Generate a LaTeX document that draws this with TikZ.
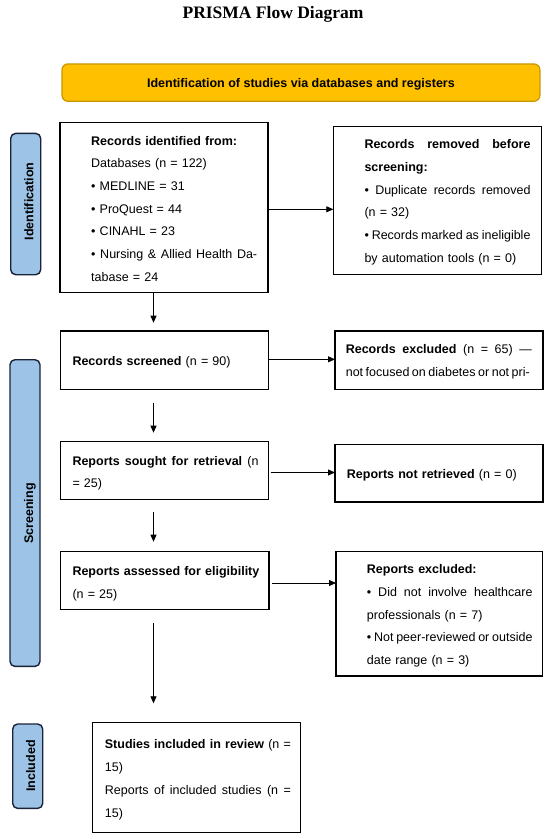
\documentclass[tikz,border=0pt]{standalone}
\usepackage{fontspec}
\setmainfont{Liberation Sans}
\newfontfamily\titlefont{Liberation Serif}
\usetikzlibrary{arrows.meta}
\definecolor{banfill}{RGB}{255,192,0}
\definecolor{banline}{RGB}{200,150,0}
\definecolor{barfill}{RGB}{157,195,230}
\definecolor{barline}{RGB}{25,35,55}
\newcommand{\jline}[2]{\makebox[#1][s]{\spaceskip=.278em plus 3em minus .1em\relax #2}}
\begin{document}
\begin{tikzpicture}[x=1pt,y=-1pt,
 box/.style={draw=black, line width=1.3pt, inner sep=0pt, outer sep=0pt, anchor=north west},
 txt/.style={inner sep=0pt, anchor=base west, align=left, text width=230pt, font=\fontsize{12.5}{22.67}\selectfont},
 bar/.style={draw=barline, fill=barfill, line width=1.4pt, rounded corners=5pt, inner sep=0pt, anchor=north west, minimum width=30pt},
 barlabel/.style={rotate=90, anchor=base, inner sep=0pt, font=\fontsize{12.5}{15}\selectfont\bfseries},
 arr/.style={line width=0.8pt, -{Triangle[length=7pt,width=6pt]}}
]
\useasboundingbox (0,0) rectangle (550,839);

% title and banner
\node[font=\titlefont\bfseries\fontsize{17.5}{20}\selectfont, inner sep=0pt, anchor=base] (title) at (273,18.3) {PRISMA Flow Diagram};
\node[draw=banline, fill=banfill, line width=1.2pt, rounded corners=6pt, minimum width=477.9pt, minimum height=37.4pt, inner sep=0pt, anchor=north west, text height=9pt, text depth=0pt, font=\fontsize{12.5}{15}\selectfont\bfseries] (ban) at (61.4,63.3) {Identification of studies via databases and registers};

% phase bars
\node[bar, minimum height=141.3pt] (idb) at (10,132.7) {};
\node[bar, minimum height=306.7pt] (scb) at (9.3,359) {};
\node[bar, minimum height=84.4pt] (inb) at (12,723.3) {};
\node[barlabel] (idl) at (33.3,201.5) {Identification};
\node[barlabel] (scl) at (33,513.5) {Screening};
\node[barlabel] (inl) at (35,766) {Included};

% boxes
\node[box, minimum width=208pt, minimum height=170pt] (id) at (60,122.7) {};
\node[txt] (idt) at (91,145.2) {\textbf{Records identified from:}\\ Databases (n = 122)\\ • MEDLINE = 31\\ • ProQuest = 44\\ • CINAHL = 23\\ \jline{166pt}{• Nursing \& Allied Health Da-}\\ tabase = 24};

\node[box, minimum width=208.4pt, minimum height=147.6pt] (rem) at (333.3,126.7) {};
\node[txt] (remt) at (364.3,148.8) {\jline{166pt}{\textbf{Records removed before}}\\ \textbf{screening:}\\ \jline{166pt}{• Duplicate records removed}\\ (n = 32)\\ \jline{166pt}{• Records marked as ineligible}\\ by automation tools (n = 0)};

\node[box, minimum width=208pt, minimum height=58.3pt] (scr) at (60.7,331) {};
\node[txt] (scrt) at (72.3,365.2) {\textbf{Records screened} (n = 90)};

\node[box, minimum width=208pt, minimum height=58.3pt] (exc) at (335,331) {};
\node[txt, font=\fontsize{12.5}{22.7}\selectfont] (exct) at (345.6,353.5) {\jline{186pt}{\textbf{Records excluded} (n = 65) —}\\ \jline{184pt}{not focused on diabetes or not pri-}};

\node[box, minimum width=207.6pt, minimum height=57.6pt] (sou) at (60.7,441.7) {};
\node[txt] (sout) at (72.3,465.2) {\jline{186pt}{\textbf{Reports sought for retrieval} (n}\\ = 25)};

\node[box, minimum width=208pt, minimum height=57.3pt] (nre) at (335,444.7) {};
\node[txt] (nret) at (346.7,478.3) {\textbf{Reports not retrieved} (n = 0)};

\node[box, minimum width=208.3pt, minimum height=57.6pt] (ass) at (60.7,551.7) {};
\node[txt, font=\fontsize{12.5}{23.3}\selectfont] (asst) at (72.3,575.2) {\textbf{Reports assessed for eligibility}\\ (n = 25)};

\node[box, minimum width=206.7pt, minimum height=124.3pt] (rex) at (336,551.7) {};
\node[txt] (rext) at (366.7,573.8) {\textbf{Reports excluded:}\\ \jline{165.6pt}{• Did not involve healthcare}\\ professionals (n = 7)\\ \jline{165.6pt}{• Not peer-reviewed or outside}\\ date range (n = 3)};

\node[box, minimum width=208pt, minimum height=110pt] (inc) at (92.7,722.7) {};
\node[txt, font=\fontsize{12.5}{23}\selectfont] (inct) at (104.7,748.5) {\jline{186pt}{\textbf{Studies included in review} (n =}\\ 15)\\ \jline{186pt}{Reports of included studies (n =}\\ 15)};

% connectors
\coordinate (ax) at (153.5,0);
\draw[arr, shorten >=8.3pt] (id.south -| ax) -- (scr.north -| ax);
\draw[arr, shorten <=13.4pt, shorten >=9pt] (scr.south -| ax) -- (sou.north -| ax);
\draw[arr, shorten <=12.4pt, shorten >=10pt] (sou.south -| ax) -- (ass.north -| ax);
\draw[arr, shorten <=13.4pt, shorten >=19.4pt] (ass.south -| ax) -- (inc.north -| ax);

\coordinate (h1) at (0,209.3);
\coordinate (h2) at (0,359.3);
\coordinate (h3) at (0,472.5);
\coordinate (h4) at (0,583);
\draw[arr] (id.east |- h1) -- (rem.west |- h1);
\draw[arr] (scr.east |- h2) -- (exc.west |- h2);
\draw[arr, shorten <=2.4pt] (sou.east |- h3) -- (nre.west |- h3);
\draw[arr, shorten <=3pt] (ass.east |- h4) -- (rex.west |- h4);
\end{tikzpicture}
\end{document}
